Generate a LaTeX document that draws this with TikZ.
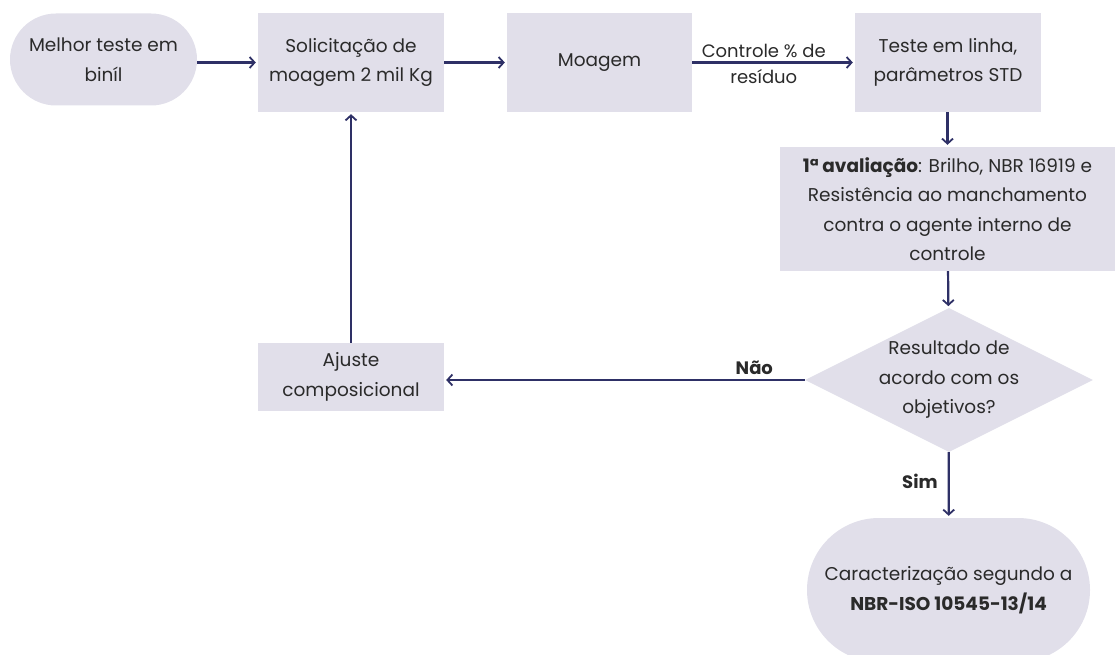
\documentclass[tikz,border=0pt]{standalone}
\usepackage{fontspec}
\setmainfont{Poppins}
\usetikzlibrary{arrows.meta,shapes.geometric}
\definecolor{boxfill}{HTML}{E1DFEA}
\definecolor{flow}{HTML}{2E3066}
\definecolor{ink}{HTML}{2A2A2A}
\begin{document}
\begin{tikzpicture}[x=1pt,y=-1pt,
  txt/.style={font=\fontsize{18.5}{29.5}\selectfont, text=ink, align=center},
  lbl/.style={font=\fontsize{18}{29}\selectfont, text=ink, align=center},
  stepbox/.style={rectangle, fill=boxfill, inner sep=0pt, txt},
  pill/.style={rectangle, fill=boxfill, inner sep=0pt, txt},
  decision/.style={diamond, fill=boxfill, inner sep=0pt},
  flowarrow/.style={draw=flow, line width=2.2pt, -{Straight Barb[length=5pt,width=11pt,line width=1.8pt]}, shorten >=2pt}
]
\useasboundingbox (0,0) rectangle (1115,655);

% process nodes
\node[pill, rounded corners=46pt, minimum width=187pt, minimum height=92pt] (start) at (103.5,59.5) {Melhor teste em\\biníl};
\node[stepbox, minimum width=186pt, minimum height=99pt] (solic) at (351,62.5) {Solicitação de\\moagem 2 mil Kg};
\node[stepbox, minimum width=185pt, minimum height=99pt] (moagem) at (599.5,62.5) {Moagem};
\node[stepbox, minimum width=186pt, minimum height=99pt] (linha) at (948,62.5) {Teste em linha,\\parâmetros STD};
\node[stepbox, minimum width=335pt, minimum height=124pt] (aval) at (947.5,209) {\textbf{1ª avaliação}: Brilho, NBR 16919 e\\Resistência ao manchamento\\contra o agente interno de\\controle};
\node[decision, minimum width=288pt, minimum height=144pt] (dec) at (949,380) {};
\node[txt] (dectext) at (dec) {Resultado de\\acordo com os\\objetivos?};
\node[stepbox, minimum width=186pt, minimum height=68pt] (ajuste) at (351,377) {Ajuste\\composicional};
\node[pill, rounded corners=72pt, minimum width=283pt, minimum height=144pt] (final) at (948.5,590) {Caracterização segundo a\\\textbf{NBR-ISO 10545-13/14}};

% connectors
\draw[flowarrow] (start.east |- solic.west) -- (solic.west);
\draw[flowarrow] (solic) -- (moagem);
\draw[flowarrow] (moagem) -- node[lbl, above, pos=0.44, inner sep=4pt] (ctl) {Controle \% de} node[lbl, below, pos=0.44, inner sep=6pt] (res) {resíduo} (linha);
\draw[flowarrow] (linha.south -| aval.north) -- (aval.north);
\draw[flowarrow] (aval) -- (dec);
\draw[flowarrow] (dec.west) -- node[lbl, above, pos=0.14, inner sep=4pt] (nao) {\textbf{Não}} (dec.west -| ajuste.east);
\draw[flowarrow] (ajuste.north -| solic.south) -- (solic.south);
\draw[flowarrow] (dec) -- node[lbl, left, pos=0.45, inner sep=10pt] (sim) {\textbf{Sim}} (final);
\end{tikzpicture}
\end{document}
